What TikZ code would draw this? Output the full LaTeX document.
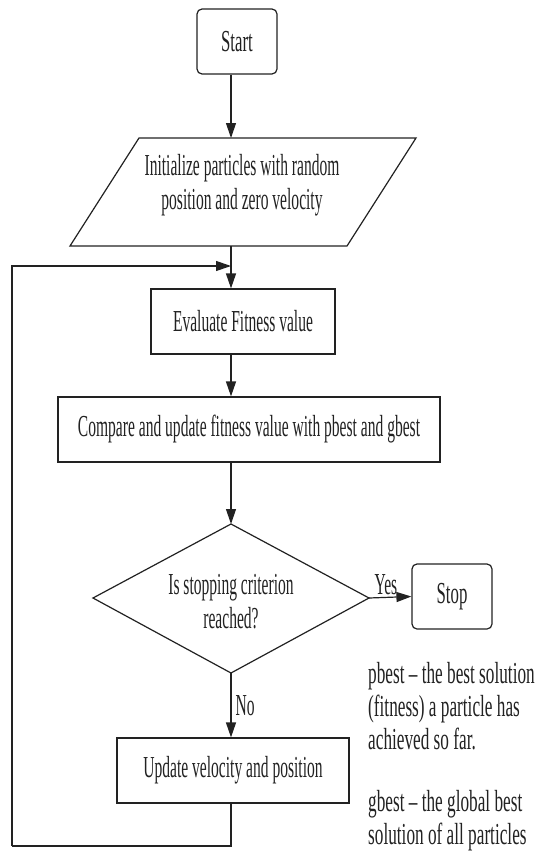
\documentclass[tikz,border=0pt]{standalone}
\usepackage{fontspec}
\setmainfont{Liberation Serif}[FakeStretch=0.51]
\newfontfamily\notefont{Liberation Serif}[FakeStretch=0.565]
\newfontfamily\termfont{Liberation Serif}[FakeStretch=0.55]
\usetikzlibrary{arrows.meta}
\definecolor{ink}{HTML}{222222}
\begin{document}
\begin{tikzpicture}[x=1pt,y=-1pt,
  every node/.style={text=ink,font=\fontsize{30.5}{34}\selectfont},
  box/.style={draw=ink,line width=1.2pt,minimum width=#1,minimum height=65pt,inner sep=0pt},
  rbox/.style={box=80pt,rounded corners=5pt,font=\fontsize{30.5}{34}\termfont},
  shp/.style={draw=ink,line width=1.2pt},
  arr/.style={draw=ink,line width=1.2pt,-{Triangle[length=15pt,width=10pt]}},
  ln/.style={draw=ink,line width=1.2pt},
  note/.style={anchor=west,inner sep=0pt,align=left,font=\fontsize{30.5}{33}\notefont}]
\useasboundingbox[fill=white] (0,0) rectangle (552,851);

% Start
\node[rbox] (start) at (237,41.5) {Start};

% Initialize (parallelogram)
\coordinate (p1) at (139,138);
\coordinate (p2) at (416,138);
\coordinate (p3) at (347,246);
\coordinate (p4) at (70,246);
\draw[shp] (p1) -- (p2) -- (p3) -- (p4) -- cycle;
\node[align=center,inner sep=0pt] (init) at (242,185) {Initialize particles with random\\position and zero velocity};
\coordinate (initT) at (231,138);
\coordinate (initB) at (231,246);

% Evaluate
\node[box=184pt] (eval) at (243,321.5) {Evaluate Fitness value};
% Compare
\node[box=382pt] (comp) at (249,429.5) {Compare and update fitness value with pbest and gbest};

% Decision diamond
\coordinate (dT) at (231,524);
\coordinate (dL) at (93,598);
\coordinate (dR) at (369,598);
\coordinate (dB) at (231,673);
\draw[shp] (dT) -- (dR) -- (dB) -- (dL) -- cycle;
\node[align=center,inner sep=0pt] (dec) at (231,602) {Is stopping criterion\\reached?};

% Stop
\node[rbox] (stop) at (452,596.5) {Stop};
% Update
\node[box=232pt] (upd) at (233,770.5) {Update velocity and position};

% connectors
\draw[arr] (start.south -| initT) -- (initT);
\draw[arr] (initB) -- (eval.north -| initB);
\draw[arr] (eval.south -| initB) -- (comp.north -| initB);
\draw[arr] (comp.south -| initB) -- (dT);
\draw[arr] (dR) -- (stop.west) node[pos=0.4,above=2pt,inner sep=0pt] (yes) {Yes};
\draw[arr] (dB) -- (upd.north -| dB) node[midway,right=4pt,inner sep=0pt] (no) {No};

\coordinate (c1) at (12,846);
\coordinate (loopin) at (231,266);
\draw[ln] (upd.south -| dB) |- (c1);
\draw[arr] (c1) |- (loopin);

% notes
\node[note] (n1) at (368,706) {pbest – the best solution\\(fitness) a particle has\\achieved so far.};
\node[note] (n2) at (368,821) {gbest – the global best\\solution of all particles};
\end{tikzpicture}
\end{document}
